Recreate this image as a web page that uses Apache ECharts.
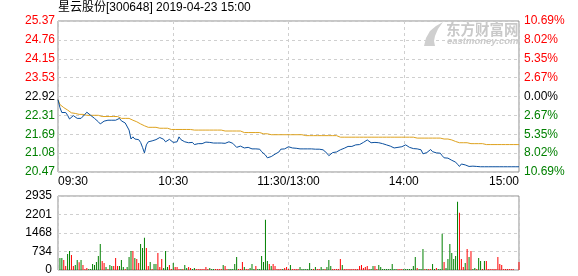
<!DOCTYPE html>
<html><head><meta charset="utf-8">
<script src="https://cdn.jsdelivr.net/npm/echarts@6/dist/echarts.min.js"></script>
<style>html,body{margin:0;padding:0;background:#fff}#c{width:578px;height:276px}</style>
</head><body><div id="c"></div>
<script>
const titleText = "星云股份[300648] 2019-04-23 15:00";
const priceMin = 20.47, priceMax = 25.37;
const priceTicks = ["20.47","21.08","21.69","22.31","22.92","23.53","24.15","24.76","25.37"];
const pctTicks = ["10.69%","8.02%","5.35%","2.67%","0.00%","2.67%","5.35%","8.02%","10.69%"];
const volTicks = ["0","734","1468","2201","2935"];
const volMax = 2935;
const xTickLabels = ["09:30","10:30","11:30/13:00","14:00","15:00"];

const price = [
22.82,22.56,22.40,22.40,22.40,22.31,22.19,22.24,22.30,22.30,
22.21,22.19,22.21,22.26,22.34,22.41,22.37,22.31,22.29,22.21,
22.17,22.10,22.03,22.03,22.12,22.14,22.15,22.14,22.15,22.14,
22.15,22.17,22.21,22.13,22.10,22.06,22.02,21.83,21.54,21.61,
21.54,21.57,21.52,21.43,21.27,21.09,21.35,21.45,21.41,21.48,
21.51,21.52,21.54,21.59,21.63,21.53,21.45,21.46,21.53,21.49,
21.43,21.43,21.45,21.61,21.52,21.49,21.45,21.41,21.42,21.43,
21.43,21.36,21.39,21.39,21.39,21.39,21.40,21.44,21.44,21.43,
21.41,21.41,21.41,21.41,21.41,21.41,21.36,21.40,21.43,21.45,
21.42,21.40,21.35,21.27,21.22,21.31,21.30,21.25,21.30,21.27,
21.22,21.22,21.22,21.22,21.22,21.21,21.13,21.09,21.02,20.93,
20.93,20.97,21.03,21.05,21.07,21.12,21.21,21.21,21.22,21.25,
21.29,21.25,21.25,21.24,21.24,21.24,21.22,21.22,21.22,21.22,
21.22,21.22,21.22,21.21,21.21,21.21,21.21,21.21,21.19,21.13,
21.08,21.00,21.04,21.10,21.12,21.12,21.14,21.19,21.22,21.24,
21.27,21.30,21.30,21.30,21.34,21.35,21.35,21.36,21.39,21.43,
21.48,21.51,21.49,21.42,21.42,21.43,21.43,21.42,21.40,21.39,
21.38,21.35,21.34,21.31,21.28,21.25,21.22,21.27,21.24,21.29,
21.35,21.35,21.30,21.27,21.25,21.23,21.22,21.22,21.22,21.19,
21.06,21.09,21.10,21.13,21.20,21.13,21.11,21.09,21.09,21.08,
21.00,20.93,20.93,20.92,20.88,20.85,20.83,20.79,20.72,20.65,
20.73,20.76,20.70,20.67,20.65,20.64,20.66,20.64,20.65,20.66,
20.64,20.67,20.64,20.64,20.64,20.64,20.64,20.64,20.64,20.64,
20.64,20.64,20.64,20.64,20.64,20.64,20.64,20.64,20.64,20.64,
20.64];

const avgPrice = [
22.82,22.66,22.61,22.56,22.56,22.48,22.42,22.39,22.37,22.37,
22.37,22.34,22.34,22.34,22.31,22.31,22.31,22.31,22.31,22.31,
22.31,22.31,22.27,22.27,22.27,22.27,22.27,22.27,22.27,22.27,
22.27,22.27,22.27,22.21,22.21,22.21,22.21,22.21,22.18,22.15,
22.12,22.10,22.06,22.03,22.00,21.97,21.95,21.92,21.92,21.92,
21.92,21.92,21.92,21.89,21.89,21.89,21.89,21.89,21.85,21.85,
21.85,21.85,21.85,21.85,21.85,21.85,21.85,21.85,21.85,21.85,
21.83,21.83,21.83,21.83,21.83,21.83,21.83,21.83,21.83,21.83,
21.83,21.83,21.83,21.83,21.83,21.83,21.83,21.80,21.80,21.80,
21.80,21.80,21.80,21.80,21.80,21.80,21.80,21.75,21.75,21.75,
21.75,21.75,21.75,21.75,21.75,21.75,21.75,21.71,21.71,21.71,
21.68,21.68,21.68,21.68,21.68,21.68,21.68,21.68,21.68,21.68,
21.68,21.68,21.68,21.68,21.68,21.68,21.68,21.68,21.68,21.65,
21.65,21.65,21.65,21.65,21.65,21.65,21.65,21.65,21.65,21.65,
21.65,21.65,21.65,21.65,21.65,21.65,21.65,21.60,21.60,21.60,
21.60,21.60,21.60,21.60,21.60,21.60,21.60,21.60,21.60,21.60,
21.60,21.60,21.60,21.60,21.60,21.60,21.60,21.60,21.60,21.60,
21.60,21.60,21.60,21.60,21.60,21.60,21.60,21.60,21.60,21.60,
21.60,21.60,21.60,21.60,21.60,21.60,21.57,21.57,21.57,21.57,
21.57,21.57,21.57,21.57,21.57,21.57,21.57,21.57,21.57,21.57,
21.54,21.54,21.54,21.54,21.51,21.51,21.51,21.46,21.46,21.42,
21.42,21.42,21.42,21.42,21.42,21.39,21.39,21.39,21.39,21.39,
21.39,21.39,21.36,21.36,21.36,21.36,21.36,21.36,21.36,21.36,
21.36,21.36,21.36,21.36,21.36,21.36,21.36,21.36,21.36,21.36,
21.36];

const volume = [
0,478,478,398,159,637,757,598,159,199,
398,305,398,199,40,80,40,40,239,199,
319,558,1036,358,279,119,40,199,159,159,
478,159,159,398,119,40,119,518,757,757,
478,438,279,1036,876,1275,876,159,319,40,
239,239,677,119,438,80,757,119,199,40,
279,119,119,40,40,40,199,80,119,80,
40,80,40,40,40,40,40,119,40,80,
40,40,40,40,40,40,199,159,40,40,
40,40,239,518,40,40,319,119,40,40,
80,239,40,159,40,40,558,319,1992,358,
239,159,239,159,40,40,40,40,80,119,
40,199,40,40,40,40,119,40,40,40,
40,279,40,40,119,40,40,119,40,40,
119,398,159,40,40,40,40,438,199,40,
40,40,40,40,40,40,40,159,199,80,
119,159,40,40,159,159,40,199,119,40,
40,40,40,40,239,40,40,40,40,40,
40,40,40,40,40,159,518,80,40,40,
837,40,40,40,40,239,40,80,40,40,
1434,319,80,438,1036,677,438,558,2709,2271,
438,119,279,837,518,757,40,80,40,478,
358,40,358,358,40,40,40,40,40,518,
239,199,40,40,40,40,40,40,0,0,
319];

const volDir = (
"gggrrggrrg"+"grgrrrgggg"+"gggrrgrggr"+"rrgggrgggr"+"grrgggrrgr"+
"ggrrrgggrr"+"grrrgrggrr"+"ggrrrrrrrg"+"ggrrrrgrrg"+"ggggrrrgrr"+
"gggrgggggg"+"rgrrrrrgrr"+"rgrrrrgggg"+"gggrgrrggr"+"gggrrrrrgr"+
"rrrrrrrrrr"+"rrrggrrggg"+"gggggggrrr"+"gggggggrgg"+"grgrrggrgg"+
"grgggggggr"+"rrgrgrggrg"+"grgrrrrrrr"+"rrrrrrrrrr"+"r").split("");

// time categories 09:30-11:30, 13:01-15:00
const times = [];
function pad(n){return (n<10?"0":"")+n;}
for (let t = 9*60+30; t <= 11*60+30; t++) times.push(pad(Math.floor(t/60))+":"+pad(t%60));
for (let t = 13*60+1; t <= 15*60; t++) times.push(pad(Math.floor(t/60))+":"+pad(t%60));

const RED = "#ff0000", GREEN = "#008000", BLUE = "#0a4f9e", ORANGE = "#dea21e";
const FONT = "'Liberation Sans', Arial, 'Noto Sans CJK SC', sans-serif";
const chart = echarts.init(document.getElementById('c'), null, {renderer:'canvas'});

const tickColor = (v) => v > 4 ? RED : (v < 4 ? GREEN : "#000000");
const dashed = {show:true, lineStyle:{color:"#cfcfcf", type:[3,3], width:1}};
const every60 = (i) => i % 60 === 0;

chart.setOption({
  animation:false,
  backgroundColor:"#ffffff",
  graphic:[
    {type:'text', left:58, top:2, style:{text:titleText, font:"12px "+FONT, fill:"#000"}},
    {type:'polygon', shape:{points:[[424,46],[426,38],[430,31],[436,26],[443,22],[438,29],[435,36],[434,41],[435,46]]}, style:{fill:"#cfcfcf"}},
    {type:'text', left:446, top:22, style:{text:"东方财富网", font:"bold 14.5px 'Noto Sans CJK SC', sans-serif", fill:"#c9c9c9"}},
    {type:'text', left:447, top:37, style:{text:"eastmoney.com", font:"italic bold 9.5px "+FONT, fill:"#c9c9c9"}}
  ],
  grid:[
    {left:58, top:21, width:461, height:151, show:true, borderColor:"#8e8e8e", borderWidth:1, backgroundColor:"transparent"},
    {left:58, top:196, width:461, height:74, show:true, borderColor:"#8e8e8e", borderWidth:1, backgroundColor:"transparent"}
  ],
  xAxis:[
    {type:'category', gridIndex:0, data:times, boundaryGap:false,
     axisLine:{show:false}, axisTick:{show:false},
     splitLine:{show:true, interval:(i)=>every60(i), lineStyle:{color:"#cfcfcf", type:[3,3]}},
     axisLabel:{show:true, interval:(i)=>every60(i), formatter:(v,i)=>xTickLabels[i/60],
       color:"#000", fontSize:12, fontFamily:FONT, margin:4, alignMinLabel:'left', alignMaxLabel:'right'}},
    {type:'category', gridIndex:1, data:times, boundaryGap:false,
     axisLine:{show:false}, axisTick:{show:false}, axisLabel:{show:false},
     splitLine:{show:true, interval:(i)=>every60(i), lineStyle:{color:"#cfcfcf", type:[3,3]}}}
  ],
  yAxis:[
    {type:'value', gridIndex:0, position:'left', min:0, max:8, interval:1,
     axisLine:{show:false}, axisTick:{show:false}, splitLine:dashed,
     axisLabel:{formatter:(v)=>priceTicks[v], color:(v)=>tickColor(v), fontSize:12, fontFamily:FONT, margin:3}},
    {type:'value', gridIndex:0, position:'right', min:0, max:8, interval:1,
     axisLine:{show:false}, axisTick:{show:false}, splitLine:{show:false},
     axisLabel:{formatter:(v)=>pctTicks[v], color:(v)=>tickColor(v), fontSize:12, fontFamily:FONT, margin:5}},
    {type:'value', gridIndex:0, min:priceMin, max:priceMax, show:false, splitLine:{show:false}},
    {type:'value', gridIndex:1, position:'left', min:0, max:volMax, interval:volMax/4,
     axisLine:{show:false}, axisTick:{show:false}, splitLine:dashed,
     axisLabel:{formatter:(v)=>volTicks[Math.round(v/(volMax/4))], color:"#000", fontSize:12, fontFamily:FONT, margin:6}}
  ],
  series:[
    {type:'line', xAxisIndex:0, yAxisIndex:2, data:avgPrice, symbol:'none', lineStyle:{color:ORANGE, width:1}, z:3},
    {type:'line', xAxisIndex:0, yAxisIndex:2, data:price, symbol:'none', lineStyle:{color:BLUE, width:1}, z:4},
    {type:'bar', xAxisIndex:1, yAxisIndex:3, barWidth:1,
     data:volume.map((v,i)=>({value:v, itemStyle:{color: volDir[i]==='r'?RED:GREEN}}))}
  ]
});
</script></body></html>
